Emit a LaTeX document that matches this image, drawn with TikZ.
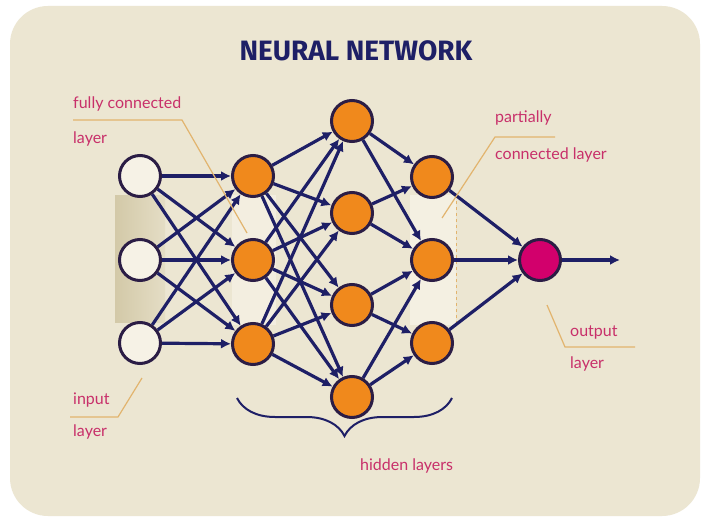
\documentclass[tikz,border=0pt]{standalone}
\usepackage{fontspec}
\setmainfont{Lato}
\newfontfamily\titlefont{Fira Sans}
\usetikzlibrary{arrows.meta,decorations.pathreplacing}
\definecolor{bg}{HTML}{ECE6D2}
\definecolor{navy}{HTML}{1E1F66}
\definecolor{rim}{HTML}{2B1D45}
\definecolor{orng}{HTML}{F0891C}
\definecolor{cream}{HTML}{F6F2E6}
\definecolor{mag}{HTML}{D2006C}
\definecolor{pinktext}{HTML}{C8306A}
\definecolor{leader}{HTML}{E2B46E}
\definecolor{bandl}{HTML}{D3C9A8}
\definecolor{bandr}{HTML}{E4DDC5}
\begin{document}
\begin{tikzpicture}
  [x=1pt,y=-1pt,
   neuron/.style={circle,draw=rim,line width=3pt,minimum size=41pt,inner sep=0pt},
   innode/.style={neuron,fill=cream},
   hidnode/.style={neuron,fill=orng},
   outnode/.style={neuron,fill=mag},
   link/.style={navy,line width=3.2pt,-{Latex[length=10pt,width=10pt]}},
   lbl/.style={text=pinktext,anchor=west,inner sep=0pt,font=\fontsize{16}{18}\selectfont},
   lead/.style={leader,line width=1.2pt}]
  \useasboundingbox (0,0) rectangle (704,524);
  \fill[white] (0,0) rectangle (704,524);
  \fill[bg,rounded corners=38pt] (10,6) rectangle (700,516);
  % layer bands
  \shade[left color=bandl,right color=bandr] (115,195) rectangle (165,322);
  \fill[cream!70!bg] (232,195) rectangle (276,325);
  \fill[cream!80!bg] (410,195) rectangle (456,325);
  \draw[leader,dashed,line width=0.6pt] (456,195) -- (456,325);
  \node[font=\titlefont\bfseries\fontsize{28}{30}\selectfont,text=navy] (title) at (356,51) {NEURAL NETWORK};
  % neurons
  \node[innode] (i1) at (140,176) {};
  \node[innode] (i2) at (140,260) {};
  \node[innode] (i3) at (140,343) {};
  \node[hidnode] (a1) at (253,176) {};
  \node[hidnode] (a2) at (253,260) {};
  \node[hidnode] (a3) at (253,344) {};
  \node[hidnode] (b1) at (352,121) {};
  \node[hidnode] (b2) at (352,213) {};
  \node[hidnode] (b3) at (352,305) {};
  \node[hidnode] (b4) at (352,397) {};
  \node[hidnode] (c1) at (432,177) {};
  \node[hidnode] (c2) at (432,260) {};
  \node[hidnode] (c3) at (432,343) {};
  \node[outnode] (o1) at (540,260) {};
  \coordinate (out) at (620,260);
  \foreach \from/\to in {i1/a1, i1/a2, i1/a3, i2/a1, i2/a2, i2/a3, i3/a1, i3/a2, i3/a3,
    a1/b1, a1/b2, a1/b3, a1/b4, a2/b1, a2/b2, a2/b3, a2/b4, a3/b1, a3/b2, a3/b3, a3/b4,
    b1/c1, b1/c2, b2/c1, b2/c2, b3/c2, b3/c3, b4/c2, b4/c3,
    c1/o1, c2/o1, c3/o1, o1/out}
    \draw [link] (\from) -- (\to);
  % labels
  \node[lbl] (fully) at (73,104) {fully connected};
  \node[lbl] (fullyb) at (73,139) {layer};
  \node[lbl] (inp) at (73,400) {input};
  \node[lbl] (inpb) at (73,432) {layer};
  \node[lbl] (part) at (495,118) {partially};
  \node[lbl] (partb) at (495,155) {connected layer};
  \node[lbl] (outp) at (570,333) {output};
  \node[lbl] (outpb) at (570,364) {layer};
  \node[lbl] (hid) at (360,466) {hidden layers};
  \draw[lead] (73,120) -- (182,120) -- (247,233);
  \draw[lead] (70,417) -- (118,417) -- (142,378);
  \draw[lead] (555,137) -- (495,137) -- (442,218);
  \draw[lead] (635,347) -- (565,347) -- (547,305);
  \draw[navy,line width=2pt,decorate,decoration={brace,mirror,amplitude=38pt}] (237,398) -- (452,398);
\end{tikzpicture}
\end{document}
